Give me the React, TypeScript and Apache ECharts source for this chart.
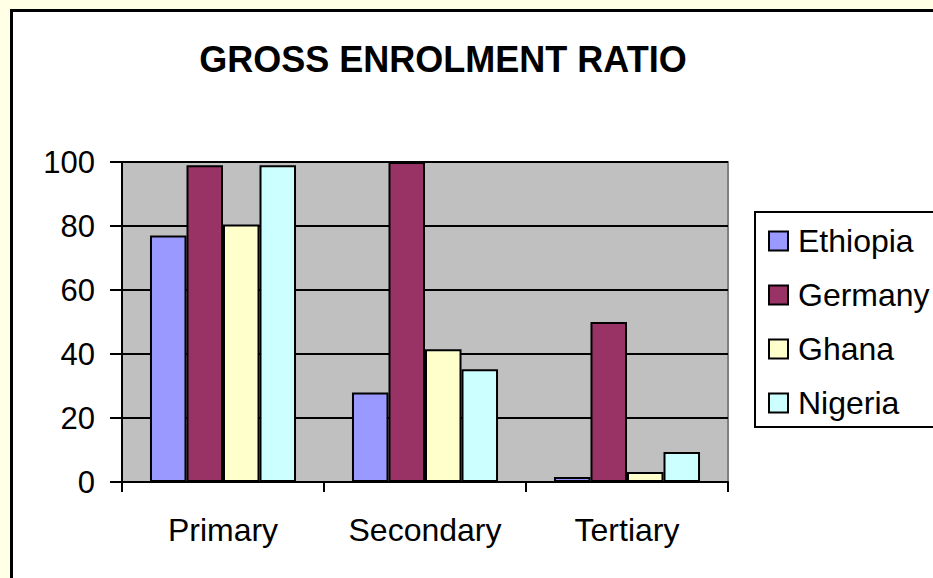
import React, { useEffect, useRef } from "react";
import * as echarts from "echarts";

const categories = ["Primary", "Secondary", "Tertiary"];
const seriesNames = ["Ethiopia", "Germany", "Ghana", "Nigeria"];
const ethiopia = [77, 28, 1.6];
const germany = [99, 100, 50];
const ghana = [80.5, 41.5, 3.1];
const nigeria = [99, 35.2, 9.4];
const seriesValues = [ethiopia, germany, ghana, nigeria];
const seriesColors = ["#9999FF", "#993366", "#FFFFCC", "#CCFFFF"];
const yTicks = { min: 0, max: 100, interval: 20 };
const titleText = "GROSS ENROLMENT RATIO";

const FONT = "'Liberation Sans', Arial, sans-serif";

export default function App() {
  const ref = useRef<HTMLDivElement>(null);
  useEffect(() => {
    if (!ref.current) return;
    const chart = echarts.init(ref.current, null, { renderer: "svg" });
    chart.setOption({
      animation: false,
      backgroundColor: "#FFFFE6",
      graphic: {
        elements: [
          {
            type: "rect",
            z: -100,
            shape: { x: 11.5, y: 10.5, width: 1000, height: 1000 },
            style: { fill: "#FFFFFF", stroke: "#000000", lineWidth: 3 },
          },
          {
            type: "text",
            x: 443,
            y: 59,
            style: {
              text: titleText,
              fontFamily: FONT,
              fontSize: 36,
              fontWeight: "bold",
              fill: "#000000",
              align: "center",
              verticalAlign: "middle",
            },
          },
          {
            type: "rect",
            z: 50,
            shape: { x: 755, y: 212, width: 300, height: 215 },
            style: { fill: "#FFFFFF", stroke: "#000000", lineWidth: 2 },
          },
        ],
      },
      legend: {
        orient: "vertical",
        left: 768,
        top: 225,
        padding: 0,
        z: 60,
        itemWidth: 19,
        itemHeight: 19,
        itemGap: 22,
        icon: "rect",
        data: seriesNames,
        itemStyle: { borderColor: "#000000", borderWidth: 2 },
        textStyle: {
          fontFamily: FONT,
          fontSize: 32,
          lineHeight: 32,
          color: "#000000",
          padding: [0, 0, 0, 5],
        },
      },
      grid: {
        left: 122,
        right: 205,
        top: 162,
        bottom: 96,
        show: true,
        backgroundColor: "#C0C0C0",
        borderColor: "#808080",
        borderWidth: 2,
      },
      xAxis: {
        type: "category",
        data: categories,
        boundaryGap: true,
        axisLine: { lineStyle: { color: "#000000", width: 2 } },
        axisTick: { show: true, length: 10, lineStyle: { color: "#000000", width: 2 } },
        axisLabel: { fontFamily: FONT, fontSize: 32, color: "#000000", margin: 32 },
      },
      yAxis: {
        type: "value",
        min: yTicks.min,
        max: yTicks.max,
        interval: yTicks.interval,
        axisLine: { show: true, lineStyle: { color: "#000000", width: 2 } },
        axisTick: { show: true, length: 12, lineStyle: { color: "#000000", width: 2 } },
        axisLabel: { fontFamily: FONT, fontSize: 31, color: "#000000", margin: 27 },
        splitLine: { show: true, lineStyle: { color: "#000000", width: 2 } },
      },
      series: seriesNames.map((name, i) => ({
        name,
        type: "bar",
        data: seriesValues[i],
        barGap: "0%",
        barCategoryGap: "27.7%",
        itemStyle: { color: seriesColors[i], borderColor: "#000000", borderWidth: 2 },
      })),
    });
    return () => chart.dispose();
  }, []);
  return (
    <div
      ref={ref}
      style={{ position: "fixed", left: 0, top: 0, width: 933, height: 578 }}
    />
  );
}
